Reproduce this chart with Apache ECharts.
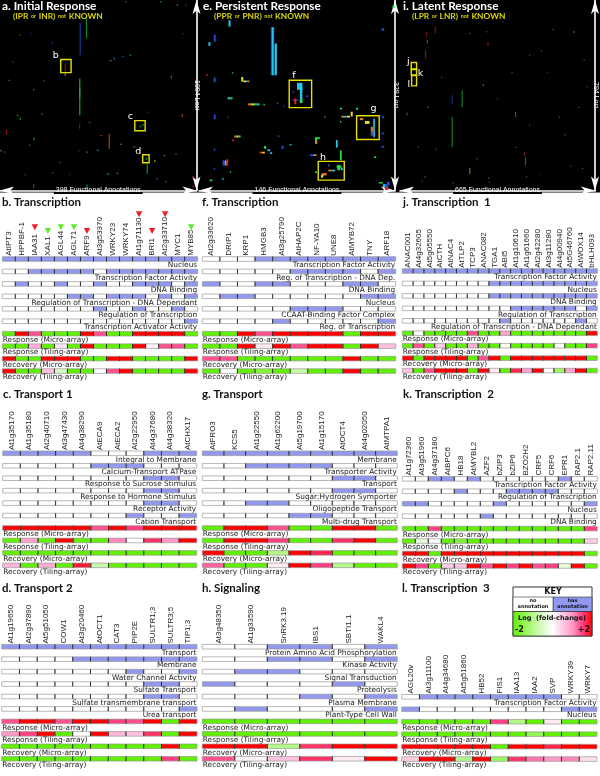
<!DOCTYPE html>
<html>
<head>
<meta charset="utf-8">
<script src="https://cdn.jsdelivr.net/npm/echarts@6/dist/echarts.min.js"></script>
<style>
body { margin: 0; background: #fff; }
#main { width: 600px; height: 776px; }
</style>
</head>
<body>
<div id="main"></div>
<script type="text/javascript">
// overview matrices: [annotation0, locus0, annotation1, locus1, level]
var aMarks = [[161,134,164,317,0],[174,96,176,221,2],[160,451,163,662,2],[160,500,163,560,6],[131,365,133,432,5],[131,413,133,438,4],
    [220,768,222,854,4],[297,941,299,998,2],[160,710,162,739,0],[230,330,232,345,6],[67,510,69,520,6],[40,675,41,690,2],[67,790,70,805,6],
    [59,830,62,838,6],[12,745,14,775,5],[8,868,10,880,7],[236,992,240,997,2],[283,722,286,732,2],[288,712,291,722,2],[295,905,298,918,2],
    [368,655,370,670,4],[346,435,348,450,4],[317,1020,319,1035,0],[390,1010,392,1028,5],[390,1062,392,1080,5],[67,1058,69,1080,6],
    [105,240,107,252,0],[39,198,41,206,2],[17,458,20,464,2],[263,312,265,322,2],[202,775,208,781,5],[243,825,247,832,2],[196,860,200,868,6],
    [312,920,315,930,3],[331,890,335,896,4],[175,1060,177,1075,2],[358,24,360,34,4],[375,24,377,34,5],[324,6,327,14,2],[253,6,255,14,2],
    [1,860,3,870,3],[84,650,87,656,2],[159,860,161,870,0],[175,868,177,880,2],[216,996,222,1000,2],[24,352,28,358,0],[61,188,63,196,0],[246,322,252,328,0],
    [88,460,90,466,6],[34,660,38,664,2],[222,345,226,349,4],[270,840,274,844,2],[140,1000,143,1004,0],[355,880,358,886,2],[120,930,123,934,6],
    [300,640,303,645,0],[180,700,183,705,2],[105,990,108,996,6],[335,1040,338,1045,2],[370,190,373,195,0],[50,1000,52,1005,4]];
var eMarks = [[53.5,47,56,130,0],[54.3,47,55.5,130,1],[56.3,75,58,130,1],[11,60,12.4,72,0],[7,73,8.5,79,1],[5.5,128,6.5,131,5],[24.5,125,25.5,127,2],
    [11,134,12.4,142,0],[11,198,12.4,206,0],[22,35,23.5,46,1],[31.5,133,33,141,3],[33,139,35,142,3],[35,139,36,142,1],[36,139,37.5,142,4],
    [36.7,178.5,39,182,4],[39,178.5,41,182,3],[41,178.5,43,182,2],[43,178.5,45,182,1],[48,179,49,182,2],[21.3,168,23.5,171.5,1],[23.5,168,25,171.5,2],
    [21,201,22,203.5,0],[26.3,234,28,237.5,4],[28,234,29.5,237.5,3],[29.5,234,31,237.5,1],[24.7,241,26,244,5],[17.6,277,19.5,286,0],[19.5,277,20.5,286,3],
    [20.5,275,21.8,286,5],[23,296,24,298,1],[17,308,18.5,310,1],[11,256,12,260,0],[11,290,12,293,0],[8,310,10,313,2],[45,262,47,265,5],[47,262,49,265,3],
    [48.5,252,50,257,2],[51,258,53,261,1],[53,263,54.5,266,1],[58.5,234,60,236,0],[61.5,252,63,257,0],[67.5,249,69,251,1],[58,177,59,180,0],[63,182,64,184,0],
    [73,143,77,155,1],[69.5,158,71,160,0],[69.5,172,74,174,0],[71,170,72.5,180,5],[75.2,150,77,178,1],[79.5,165,81.5,167,0],[75,172,77,178,2],
    [136,49,138,53,0],[106,200,108,203,4],[108,200,110,203,1],[110,200,112.5,203,3],[113,193,114.5,201,3],[117,186,118.5,190,6],[105,186,106.5,189,2],
    [93.3,201,94.5,203,2],[105,209,106,212,6],[119.8,204,122.3,207.5,4],[123.6,209,127,214,3],[128,219,129.5,234,4],[128,227,129.5,234,0],[129.8,205,131,237,1],
    [136,201,138,204,0],[136,229,138,232,0],[136,252,138,255,0],[86.4,237,90,240,2],[86.4,238,88,248,2],[86.4,244,88,248,4],[102,242,103.3,255,1],
    [82.6,266.5,85,269.5,0],[85,266.5,87.6,269.5,4],[105,260,106.3,277,2],[130.5,270,132,273,2],[86.5,296,88,299,2],[91.3,299,95,303,4],[91,302,92.5,307,3],
    [96.3,293,98.5,296,4],[98.5,293,101.2,296,1],[96,284,97.5,287,0],[102.5,286,106.2,290,2],[103,285,105,294,2],[105.5,290,107,294,1],[134,314.5,137,317,2],
    [137,318,139,323,1],[139,318,141,323,0],[140,314,142,320,0],[138.5,323,141,328,5],[144,10,146,13,2]];
var iMarks = [[176,488,179,613,2],[176,397,179,432,0],[176,70,178,91,0],[210,376,213,446,2],[89,132,92,153,5],[91,167,94,181,2],[85,209,87,244,5],[118,111,120,139,5],
    [426,655,429,690,6],[423,636,426,650,5],[392,467,395,488,2],[298,176,300,195,5],[590,130,596,136,2],[236,700,238,725,3],[282,352,285,358,3],[626,249,630,252,4],
    [93,443,95,450,2],[440,228,444,232,6],[22,470,24,480,2],[84,735,86,742,2],[73,752,76,755,2],[608,445,611,447,2],[429,735,431,740,4],[581,690,584,692,6],
    [293,130,296,135,2],[236,137,238,141,4],[474,723,477,726,0],[303,758,307,760,4],[637,360,640,364,6],[542,486,545,489,2],[395,612,398,615,6],
    [140,320,143,324,2],[330,410,334,414,6],[500,300,504,304,0],[560,560,564,564,2],[120,620,124,624,6],[260,660,264,664,4],[480,210,484,214,2],
    [350,90,354,94,0],[620,700,624,704,2],[60,610,64,614,2],[440,520,444,524,6],[300,740,304,744,2],[520,120,524,124,4],[180,760,184,764,2],[380,300,384,304,6]];
var aBoxes = [[123,342,144,417],[273,693,294,751],[289,889,302,935]];
var eBoxes = [[67.2,138.5,83.9,185.8],[117.4,200,134.2,241],[88.8,278.7,108.2,311]];
var iBoxes = [[38.4,260.5,56.5,289.7],[38.4,287,56.5,312],[39.6,315,56.5,358]];
var aTags = [[113,317,'b'],[264,670,'c'],[280,868,'d']];
var eTags = [[70.7,130,'f'],[130,187.5,'g'],[92.3,272,'h']];
var iTags = [[28,255,'j'],[70,306,'k'],[30.5,352,'l']];

var exprTerms = ['Response (Micro-array)', 'Response (Tiling-array)', 'Recovery (Micro-array)', 'Recovery (Tiling-array)'];

// b. Transcription
var bGenes = ['AtIPT3','HPPBF-1','IAA31','XAL1','AGL44','AGL71','ARF9','At3g53370','WRKY23','WRKY74','At1g71130','BRI1','At2g33710','MYC1','MYB85'];
var bTerms = ['Nucleus','Transcription Factor Activity','DNA Binding','Regulation of Transcription - DNA Dependant','Regulation of Transcription','Transcription Activator Activity'];
var bAnnot = [[1,1,1,1,1,1,1,1,1,1,1,1,1,1,1],[0,0,1,1,1,1,1,0,1,1,1,1,1,1,1],[0,1,0,0,1,0,0,1,0,0,1,1,1,0,1],[0,0,0,0,0,1,1,0,1,1,1,0,1,0,1],[0,0,0,0,0,0,0,1,0,0,1,0,0,1,0],[0,0,0,0,0,0,0,0,0,0,0,0,0,0,1]];
var bFold = [[-2,2,1.4,-2,-2,-2,2,1.4,-2,-2,2,2,2,2,-2],[-2,-2,0.8,-2,0.2,-2,2,-2,-2,-2,2,0.1,1.4,1.4,-2],[2,-2,-2,2,2,2,-2,-2,2,2,-2,-2,-2,-2,2],[2,-2,-2,0.6,-0.5,-2,-2,0,1.4,2,-2,-2,-2,-2,2]];
var bMarkGenes = ['IAA31','XAL1','AGL44','AGL71','ARF9','At1g71130','BRI1','At2g33710','MYB85'];
var bMarkUp = [1,0,0,0,1,1,1,1,0];

// f. Transcription
var fGenes = ['At2g33620','DRIP1','KRP1','HMGB3','At3g25790','AtHAP2C','NF-YA10','UNE8','AtMYB72','TNY','ARF18'];
var fTerms = ['Transcription Factor Activity','Reg. of Transcription - DNA Dep.','DNA Binding','Nucleus','CCAAT-Binding Factor Complex','Reg. of Transcription'];
var fAnnot = [[0,0,0,1,1,1,1,1,1,1,1],[0,0,0,0,0,1,1,1,1,0,1],[1,0,0,1,1,0,0,0,1,1,0],[0,1,1,0,0,0,0,0,0,1,1],[0,0,0,0,0,1,1,1,0,0,0],[0,0,0,0,1,0,0,0,0,0,1]];
var fFold = [[-2,-2,2,1.4,2,2,2,2,-2,2,2],[-2,-2,2,0.2,2,1.4,2,2,-2,2,0.6],[1.4,1.4,-2,-2,-2,-2,-2,-2,2,-2,-2],[-2,0,-2,-1.6,-2,-0.7,-2,-2,2,-2,-2]];

// j. Transcription 1
var jGenes = ['ANAC001','At4g32605','At5g05550','AtCTH','AtNAC4','AtTLP2','TCP3','ANAC082','TGA1','ABI5','At1g10610','At1g61660','At2g42280','At3g11280','At4g00940','At5G46760','AtWOX14','bHLH093'];
var jTerms = ['Transcription Factor Activity','Nucleus','DNA Binding','Regulation of Transcription','Regulation of Transcription - DNA Dependant'];
var jAnnot = [[1,1,1,1,1,1,1,1,1,1,1,1,1,1,1,1,1,1],[0,0,0,0,0,0,0,0,1,1,1,1,1,1,1,1,1,1],[0,0,0,0,0,0,0,0,1,1,1,1,1,1,1,1,1,1],[0,0,0,0,0,0,0,0,0,0,1,1,1,1,1,1,0,1],[0,0,0,0,0,0,0,0,0,1,0,0,0,0,0,0,1,0]];
var jFold = [[-2,0,-2,-2,-2,-2,1.4,-2,-2,0.9,-2,-2,-2,-2,-2,-2,-2,2],[-2,1.4,-2,0.5,-2,-2,0.8,-2,-2,-0.1,-2,-2,-2,-2,0,-2,-2,1.5],[2,-2,2,2,2,2,-2,1.4,2,-2,2,2,2,2,2,2,2,-2],[0.6,-2,1.4,2,2,2,-2,2,0.2,-2,1.7,0.9,2,0,-1.3,0.9,2,-2]];

// c. Transport 1
var cGenes = ['At1g35170','At1g35180','At2g40710','At3g47430','At4g38290','AtECA9','AtECA2','At2g22950','At4g37680','At4g38320','AtCHX17'];
var cTerms = ['Integral to Membrane','Calcium-Transport ATPase','Response to Sucrose Stimulus','Response to Hormone Stimulus','Receptor Activity','Cation Transport'];
var cAnnot = [[1,1,1,1,1,0,0,0,1,1,1],[0,0,0,0,0,1,1,1,0,0,0],[0,0,0,0,0,0,0,0,1,1,0],[0,0,0,0,0,0,0,0,1,1,0],[0,0,0,0,0,0,0,0,1,1,0],[0,0,0,0,0,0,0,1,0,0,1]];
var cFold = [[2,2,2,2,2,1.4,2,1.5,2,2,2],[-2,0.9,-2,2,-2,-2,1.1,0,1.6,1,2],[-2,-2,-2,-2,-2,-2,-2,-2,-2,-2,-2],[0.7,-2,0.8,-2,1.8,-0.7,-2,-2,-2,-2,-2]];

// g. Transport
var gGenes = ['AtFRO3','KCS5','At1g22550','At1g62200','At5g19700','At1g15170','AtOCT4','At4g02050','AtMTPA1'];
var gTerms = ['Membrane','Transporter Activity','Transport','Sugar:Hydrogen Symporter','Oligopeptide Transport','Multi-drug Transport'];
var gAnnot = [[1,1,1,1,1,1,1,1,1],[0,0,1,1,1,1,0,0,0],[0,0,0,0,0,0,1,1,0],[0,0,0,0,0,0,1,1,0],[0,0,1,1,0,0,0,0,0],[0,0,0,0,1,1,0,0,0]];
var gFold = [[-2,2,2,1.4,-2,-2,2,2,-2],[-2,2,2,1.5,-2,-2,1.6,2,-2],[2,-2,-2,-1,2,1.7,-2,-2,-2],[1.3,-2,-2,0.2,2,1.5,-1,-2,-2]];

// k. Transcription 2
var kGenes = ['At1g72360','At3g51960','At4g37180','AtBPC6','HB18','AtMYBL2','AZF2','bZIP3','bZIP6','BZO2H2','CRF5','CRF6','EPR1','RAP2.1','RAP2.11'];
var kTerms = ['Transcription Factor Activity','Regulation of Transcription','Nucleus','DNA Binding'];
var kAnnot = [[0,0,1,1,0,1,0,0,0,0,0,0,1,0,0],[0,0,0,0,1,0,0,0,1,1,1,1,0,0,0],[1,1,0,0,0,0,0,1,0,0,0,0,0,0,1],[0,0,0,0,0,0,1,0,0,0,0,0,0,0,0]];
var kFold = [[-2,-2,1.5,-2,-2,-2,-2,-2,-2,-2,-2,-2,-2,-2,1.5],[-2,-0.3,0,-2,-1.6,-2,-2,-2,-2,-2,-2,-2,-2,-2,0.5],[2,2,-2,2,2,2,2,2,2,2,2,2,2,2,-2],[2,1.5,-2,0.5,0.6,2,1.4,2,1.5,2,1.4,1.5,-0.3,2,-2]];

// d. Transport 2
var dGenes = ['At1g19650','At2g37890','At5g51050','COW1','At3g20460','AtOCT1','CAT3','PIP2E','SULTR1;3','SULTR3;5','TIP1;3'];
var dTerms = ['Transport','Membrane','Water Channel Activity','Sulfate Transport','Sulfate transmembrane transport','Urea transport'];
var dAnnot = [[1,1,1,1,1,1,1,1,1,1,1],[0,0,0,0,1,1,1,1,1,1,1],[0,0,0,0,0,0,0,1,0,0,1],[0,0,0,0,0,0,0,0,1,1,0],[0,0,0,0,0,0,0,0,1,1,0],[0,0,0,0,0,0,0,0,0,0,1]];
var dFold = [[1.4,2,2,1.4,2,2,1.5,1.4,2,-2,2],[1,1.5,2,-2,0,2,0.7,0.6,1.6,-2,2],[-2,-2,-2,-2,-2,-2,-2,-2,-2,2,-2],[-2,-2,-2,-2,-2,-2,-2,-2,-2,1.5,-2]];

// h. Signaling
var hGenes = ['At3g48350','At1g33590','SnRK3.19','IBS1','SBTI1.1','WAKL4'];
var hTerms = ['Protein Amino Acid Phosphorylation','Kinase Activity','Signal Transduction','Proteolysis','Plasma Membrane','Plant-Type Cell Wall'];
var hAnnot = [[0,0,1,1,0,1],[0,0,1,1,0,1],[0,1,1,0,0,0],[1,0,0,0,1,0],[0,0,0,1,0,1],[0,1,0,0,0,1]];
var hFold = [[-2,-2,-2,-2,-2,-2],[-2,-2,-2,-2,-2,-2],[2,2,-1,1.6,2,2],[1.4,0.1,0.6,1.6,0.2,2]];

// l. Transcription 3
var lGenes = ['AGL20v','At3g11100','At4g34680','At5g51860','HB52','FIS1','IAA13','IAA2','SVP','WRKY39','WRKY7'];
var lTerms = ['Transcription Factor Activity','Nucleus'];
var lAnnot = [[0,1,1,1,1,1,1,1,1,0,0],[1,0,0,0,0,0,0,0,0,1,1]];
var lFold = [[-2,-2,-2,-2,-2,1.5,-1,-2,0.2,-2,-2],[-2,-2,-2,-2,-2,-2,-2,-1.4,-2,-2,-2],[2,2,2,2,2,-2,2,2,1.7,2,2],[0.5,2,2,-1,2,-1.3,1.6,1.2,1,1.1,0.3]];

var PITCH = 12.45;
var levelColors = ['#1e50d8','#22c8f0','#22dd44','#e8e020','#f08020','#e82020','#20b0a0','#8040c0'];
var heatStops = [[-2,'#60f000'],[-1,'#b4f888'],[0,'#ffffff'],[1,'#ff98c8'],[1.5,'#ff4080'],[2,'#ff0000']];
var NARROW = '"Liberation Sans Narrow","Liberation Sans",sans-serif';
var LABEL = '"DejaVu Sans",sans-serif';
var HEAD = 'Lato,sans-serif';

function hex(s, i) { return parseInt(s.substr(i, 2), 16); }
function heatColor(v) {
    for (var i = 1; i < heatStops.length; i++) {
        if (v <= heatStops[i][0]) {
            var a = heatStops[i - 1], b = heatStops[i];
            var t = (v - a[0]) / (b[0] - a[0]);
            var c = [1, 3, 5].map(function (k) { return Math.round(hex(a[1], k) + (hex(b[1], k) - hex(a[1], k)) * t); });
            return 'rgb(' + c.join(',') + ')';
        }
    }
    return '#ff0000';
}

var option = {
    backgroundColor: '#fff',
    animation: false,
    title: [],
    grid: [],
    xAxis: [],
    yAxis: [],
    series: [],
    graphic: { elements: [] }
};

function renderCell(params, api) {
    var c = api.coord([api.value(0), api.value(1)]);
    var w = api.size([1, 0])[0];
    var fill = api.value(3) ? heatColor(api.value(2)) : (api.value(2) ? '#9198ee' : '#ffffff');
    var x = c[0] - w / 2;
    return {
        type: 'group',
        children: [
            { type: 'rect', shape: { x: x, y: c[1] - 2.3, width: w, height: 4.6 }, style: { fill: fill, stroke: '#9a9a9a', lineWidth: 0.7 } },
            { type: 'line', shape: { x1: x, y1: c[1] - 2.3, x2: x, y2: c[1] + 2.3 }, style: { stroke: '#111', lineWidth: api.value(0) ? 0.8 : 0 } }
        ]
    };
}

// one heat panel: gene labels on a top category axis, strips on a row category axis
function addPanel(left, width, firstRow, genes, terms, annot, fold) {
    var rows = annot.concat(fold);
    var names = terms.concat(exprTerms);
    var idx = option.grid.length;
    var top = firstRow - PITCH / 2;
    option.grid.push({ left: left, width: width, top: top, height: rows.length * PITCH });
    option.xAxis.push({
        gridIndex: idx, type: 'category', data: genes, position: 'top',
        axisLine: { show: false }, axisTick: { show: false }, splitLine: { show: false },
        axisLabel: { rotate: -90, interval: 0, margin: -3, fontSize: 8, color: '#222', fontFamily: NARROW, hideOverlap: false }
    });
    option.yAxis.push({ gridIndex: idx, type: 'category', inverse: true, show: false, data: names });
    var cells = [];
    rows.forEach(function (row, r) {
        row.forEach(function (v, g) { cells.push([g, r, v, r >= annot.length ? 1 : 0]); });
    });
    option.series.push({
        type: 'custom', xAxisIndex: idx, yAxisIndex: idx, coordinateSystem: 'cartesian2d',
        encode: { x: 0, y: 1 }, data: cells, renderItem: renderCell, silent: true
    });
    option.series.push({
        type: 'custom', xAxisIndex: idx, yAxisIndex: idx, coordinateSystem: 'cartesian2d',
        encode: { y: 0 }, data: names.map(function (n, r) { return [r]; }), silent: true,
        renderItem: function (params, api) {
            var r = api.value(0);
            var isExpr = r >= annot.length;
            var c = api.coord([isExpr ? 0 : genes.length - 1, r]);
            var w = api.size([1, 0])[0];
            return {
                type: 'text',
                style: {
                    x: isExpr ? c[0] - w / 2 + 0.5 : c[0] + w / 2 - 0.5,
                    y: c[1] + 6.3,
                    text: names[r],
                    align: isExpr ? 'left' : 'right',
                    verticalAlign: 'middle',
                    fontSize: 7.4,
                    fontFamily: LABEL,
                    fill: '#222'
                }
            };
        }
    });
    return idx;
}

function addHead(left, centerY, text) {
    option.title.push({
        left: left, top: centerY - 7, text: text, padding: 0,
        textStyle: { fontFamily: HEAD, fontWeight: 'bold', fontSize: 11.5, color: '#111', lineHeight: 14 }
    });
}

// one black overview panel
function addMatrix(left, width, nAnn, nLoci, marks, boxes, tags, alpha) {
    var idx = option.grid.length;
    var arrow = { show: true, onZero: false, symbol: ['arrow', 'arrow'], symbolSize: [6, 14], lineStyle: { color: '#fff', width: 1.6 } };
    var nameStyle = { color: '#fff', fontSize: 7, fontFamily: NARROW, backgroundColor: '#000', padding: [0, 2] };
    option.grid.push({ left: left, width: width, top: 0, height: 190.5 });
    option.xAxis.push({
        gridIndex: idx, type: 'value', min: 0, max: nAnn, position: 'bottom',
        axisLine: arrow, axisTick: { show: false }, axisLabel: { show: false }, splitLine: { show: false },
        name: nAnn + ' Functional Annotations', nameLocation: 'middle', nameGap: -3.5, nameTextStyle: nameStyle
    });
    option.yAxis.push({
        gridIndex: idx, type: 'value', min: 0, max: nLoci, inverse: true, position: 'right',
        axisLine: arrow, axisTick: { show: false }, axisLabel: { show: false }, splitLine: { show: false },
        name: nLoci + ' Loci', nameLocation: 'middle', nameRotate: -90, nameGap: -3, nameTextStyle: nameStyle
    });
    option.series.push({
        type: 'custom', xAxisIndex: idx, yAxisIndex: idx, coordinateSystem: 'cartesian2d', silent: true,
        encode: { x: [0, 2], y: [1, 3] }, data: marks,
        renderItem: function (params, api) {
            var p0 = api.coord([api.value(0), api.value(1)]);
            var p1 = api.coord([api.value(2), api.value(3)]);
            return {
                type: 'rect',
                shape: { x: p0[0], y: p0[1], width: Math.max(p1[0] - p0[0], 1.2), height: Math.max(p1[1] - p0[1], 1.2) },
                style: { fill: levelColors[api.value(4)], opacity: alpha }
            };
        }
    });
    option.series.push({
        type: 'custom', xAxisIndex: idx, yAxisIndex: idx, coordinateSystem: 'cartesian2d', silent: true,
        encode: { x: [0, 2], y: [1, 3] }, data: boxes,
        renderItem: function (params, api) {
            var p0 = api.coord([api.value(0), api.value(1)]);
            var p1 = api.coord([api.value(2), api.value(3)]);
            return {
                type: 'rect',
                shape: { x: p0[0], y: p0[1], width: p1[0] - p0[0], height: p1[1] - p0[1] },
                style: { fill: 'none', stroke: '#e6e000', lineWidth: 1.4 }
            };
        }
    });
    option.series.push({
        type: 'custom', xAxisIndex: idx, yAxisIndex: idx, coordinateSystem: 'cartesian2d', silent: true,
        encode: { x: 0, y: 1 }, data: tags,
        renderItem: function (params, api) {
            var p = api.coord([api.value(0), api.value(1)]);
            return {
                type: 'text',
                style: { x: p[0], y: p[1], text: tags[params.dataIndex][2], align: 'center', verticalAlign: 'middle', fontSize: 9.5, fontFamily: LABEL, fill: '#fff' }
            };
        }
    });
}

function addMatrixTitle(left, subLeft, head, sub1, sub2) {
    option.title.push({
        left: left, top: 0, text: head, padding: 0,
        textStyle: { fontFamily: HEAD, fontWeight: 'bold', fontSize: 11.8, color: '#fff', lineHeight: 13 }
    });
    option.title.push({
        left: subLeft, top: 12, padding: 0,
        text: '{y|' + sub1 + '}{w|  or  }{y|' + sub2 + '}{w|  not  }{y|KNOWN}',
        textStyle: {
            fontSize: 5,
            rich: {
                y: { color: '#d8d400', fontFamily: HEAD, fontWeight: 'bold', fontSize: 8.4 },
                w: { color: '#d8d400', fontFamily: HEAD, fontWeight: 'bold', fontSize: 5.4 }
            }
        }
    });
}

option.graphic.elements.push({ type: 'rect', z: -10, silent: true, shape: { x: 0, y: 0, width: 600, height: 192.5 }, style: { fill: '#000' } });

addMatrix(0, 196.5, 398, 1094, aMarks, aBoxes, aTags, 0.6);
addMatrix(199, 196, 146, 329, eMarks, eBoxes, eTags, 1);
addMatrix(400, 196, 665, 794, iMarks, iBoxes, iTags, 0.55);
addMatrixTitle(2, 13, 'a. Initial Response', '(IPR', 'INR)');
addMatrixTitle(203, 214, 'e. Persistent Response', '(PPR', 'PNR)');
addMatrixTitle(403, 412, 'i. Latent Response', '(LPR', 'LNR)');

var bIndex = addPanel(2.3, 195.4, 259, bGenes, bTerms, bAnnot, bFold);
addPanel(202.3, 193.4, 259, fGenes, fTerms, fAnnot, fFold);
addPanel(402.3, 195, 271, jGenes, jTerms, jAnnot, jFold);
addPanel(2.7, 194, 453.3, cGenes, cTerms, cAnnot, cFold);
addPanel(202.3, 195, 453.3, gGenes, gTerms, gAnnot, gFold);
addPanel(402.3, 195, 478.8, kGenes, kTerms, kAnnot, kFold);
addPanel(1.7, 195.3, 646.7, dGenes, dTerms, dAnnot, dFold);
addPanel(202.3, 195, 646.7, hGenes, hTerms, hAnnot, hFold);
addPanel(401.7, 195.3, 696.8, lGenes, lTerms, lAnnot, lFold);

addHead(2, 202, 'b. Transcription');
addHead(202, 202, 'f. Transcription');
addHead(403, 202, 'j. Transcription  1');
addHead(3, 394, 'c. Transport 1');
addHead(202, 394, 'g. Transport');
addHead(403, 394, 'k. Transcription  2');
addHead(2, 588, 'd. Transport 2');
addHead(202, 588, 'h. Signaling');
addHead(402, 588, 'l. Transcription  3');

// triangles over the gene labels of panel b, sat just above each label
function labelLength(name) {
    return name.replace(/[A-Z]/g, 'XX').length * 2.3 + name.replace(/[^a-z0-9]/g, '').length * 1.4;
}
option.series.push({
    type: 'custom', xAxisIndex: bIndex, yAxisIndex: bIndex, coordinateSystem: 'cartesian2d', silent: true,
    encode: { x: 0 }, data: bMarkGenes.map(function (g, i) { return [bGenes.indexOf(g), bMarkUp[i]]; }),
    renderItem: function (params, api) {
        var c = api.coord([api.value(0), 0]);
        var y = c[1] - 5 - labelLength(bGenes[api.value(0)]) - 8.5;
        return {
            type: 'polygon',
            shape: { points: [[c[0] - 3.2, y], [c[0] + 3.2, y], [c[0], y + 6]] },
            style: { fill: api.value(1) ? '#f02020' : '#60e830' }
        };
    }
});

// key box
var keyGrad = {
    type: 'linear', x: 0, y: 0, x2: 1, y2: 0,
    colorStops: heatStops.map(function (s) { return { offset: (s[0] + 2) / 4, color: s[1] }; })
};
function keyText(x, y, text, size, weight, align) {
    return { type: 'text', x: x, y: y, silent: true, style: { text: text, align: align || 'center', verticalAlign: 'middle', fontSize: size, fontWeight: weight || 'normal', fontFamily: LABEL, fill: '#111' } };
}
option.graphic.elements.push(
    { type: 'rect', silent: true, shape: { x: 513, y: 587, width: 79, height: 49 }, style: { fill: '#fff', stroke: '#333', lineWidth: 1 } },
    { type: 'rect', silent: true, shape: { x: 553, y: 597, width: 39, height: 14.5 }, style: { fill: '#9198ee', stroke: '#333', lineWidth: 0.6 } },
    { type: 'rect', silent: true, shape: { x: 513, y: 597, width: 40, height: 14.5 }, style: { fill: '#fff', stroke: '#333', lineWidth: 0.6 } },
    { type: 'rect', silent: true, shape: { x: 513, y: 611.5, width: 79, height: 24.5 }, style: { fill: keyGrad, stroke: '#333', lineWidth: 0.8 } },
    keyText(553, 592.3, 'KEY', 8, 'bold'),
    keyText(533, 601, 'no', 5, 'bold'),
    keyText(533, 607, 'annotation', 5, 'bold'),
    keyText(572.5, 601, 'has', 5, 'bold'),
    keyText(572.5, 607, 'annotation', 5, 'bold'),
    keyText(552, 618, 'Log  (fold-change)', 6.6, 'bold'),
    keyText(515, 630, '-2', 8, 'bold', 'left'),
    keyText(590, 630, '+2', 8, 'bold', 'right')
);

var myChart = echarts.init(document.getElementById('main'), null, { renderer: 'canvas' });
myChart.setOption(option);
</script>
</body>
</html>
